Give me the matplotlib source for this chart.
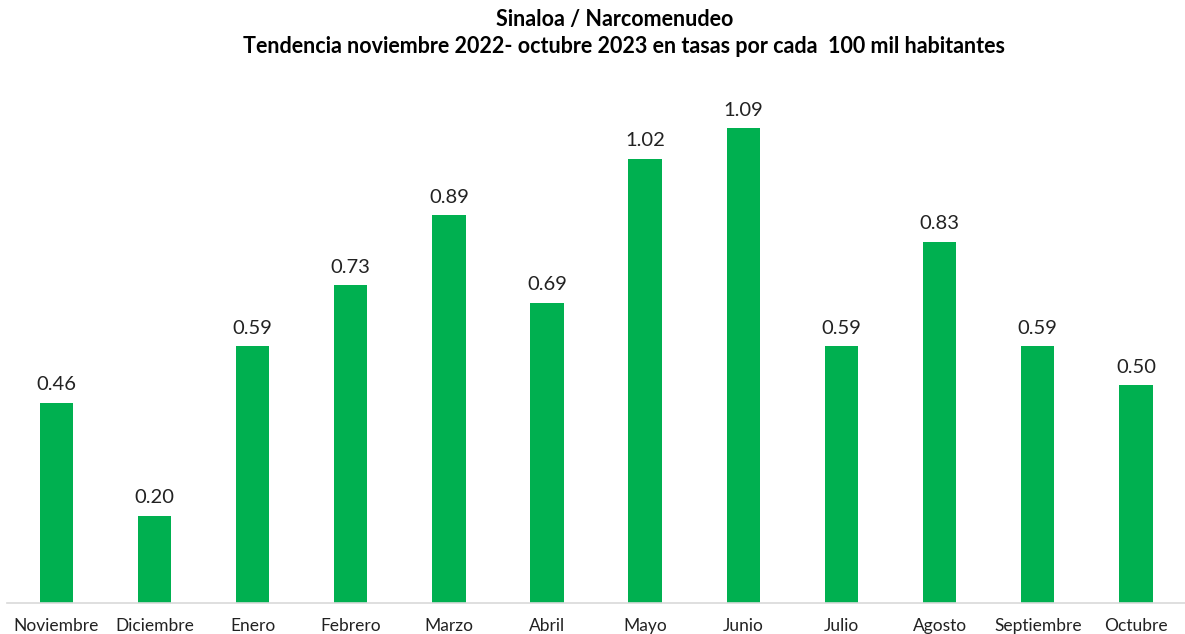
import numpy as np
import matplotlib.pyplot as plt

meses = ["Noviembre", "Diciembre", "Enero", "Febrero", "Marzo", "Abril",
         "Mayo", "Junio", "Julio", "Agosto", "Septiembre", "Octubre"]
tasas = [0.46, 0.20, 0.59, 0.73, 0.89, 0.69, 1.02, 1.09, 0.59, 0.83, 0.59, 0.50]

plt.rcParams['font.family'] = ['Lato', 'DejaVu Sans']

fig = plt.figure(figsize=(11.85, 6.34), dpi=100)
ax = fig.add_axes([0.006, 0.049, 0.994, 0.824])

x = np.arange(len(meses))
bars = ax.bar(x, tasas, width=0.34, color="#00B050")
for xi, v in zip(x, tasas):
    ax.text(xi, v + 0.022, f"{v:.2f}", ha="center", va="bottom", fontsize=14.5, color="#222222")

ax.set_xlim(-0.5, len(meses) - 0.5)
ax.set_ylim(0, 1.2)
ax.set_xticks(x)
ax.set_xticklabels(meses, fontsize=12.5, color="#222222")
ax.tick_params(axis="x", length=0, pad=11)
ax.set_yticks([])
for s in ["top", "right", "left"]:
    ax.spines[s].set_visible(False)
ax.spines["bottom"].set_color("#D9D9D9")
ax.spines["bottom"].set_linewidth(1.2)

fig.text(0.519, 0.970, "Sinaloa / Narcomenudeo", ha="center", va="center",
         fontsize=15.5, fontweight="bold")
fig.text(0.527, 0.926, "Tendencia noviembre 2022- octubre 2023 en tasas por cada  100 mil habitantes",
         ha="center", va="center", fontsize=15.5, fontweight="bold")

fig.savefig("out.png", dpi=100)
